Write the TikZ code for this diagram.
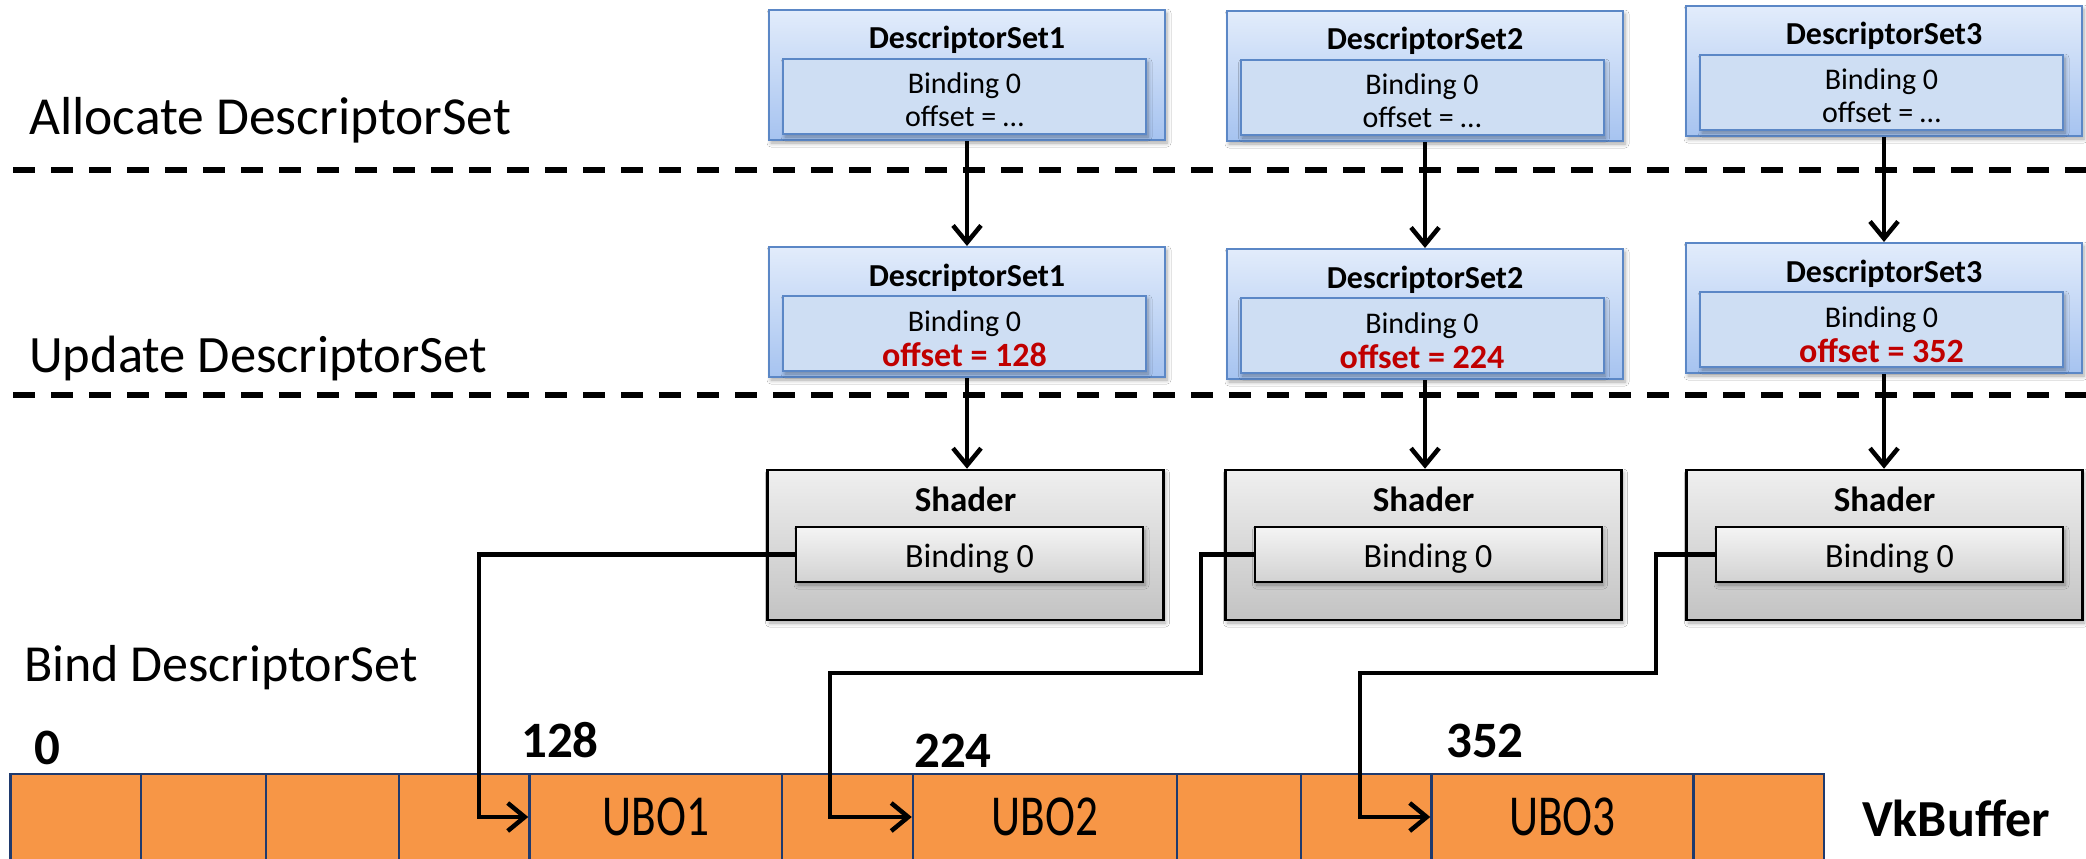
\documentclass[tikz,border=0pt]{standalone}
\usepackage{fontspec}
\setmainfont{Carlito}
\usetikzlibrary{arrows.meta,shadows.blur}
\definecolor{dsTop}{HTML}{E2ECFB}
\definecolor{dsBot}{HTML}{A6C3F0}
\definecolor{dsLine}{HTML}{5B87C6}
\definecolor{dsIn}{HTML}{CEDEF3}
\definecolor{shTop}{HTML}{EFEFEF}
\definecolor{shBot}{HTML}{C3C3C3}
\definecolor{inTop}{HTML}{F4F4F4}
\definecolor{inBot}{HTML}{D2D2D2}
\definecolor{bufFill}{HTML}{F79646}
\definecolor{bufLine}{HTML}{1F3A6E}
\definecolor{offRed}{HTML}{C00000}
\tikzset{
  softshadow/.style={blur shadow={shadow xshift=2pt, shadow yshift=-3pt, shadow blur steps=6, shadow blur radius=4pt, shadow opacity=35}},
  dsouter/.style={draw=dsLine, line width=2pt, top color=dsTop, bottom color=dsBot, minimum width=396pt, minimum height=130pt, inner sep=0pt, softshadow},
  dsinner/.style={draw=dsLine, line width=2pt, fill=dsIn, minimum width=363pt, minimum height=75pt, inner sep=0pt, softshadow},
  shouter/.style={draw=black, line width=2.5pt, top color=shTop, bottom color=shBot, minimum width=396pt, minimum height=150pt, inner sep=0pt, softshadow},
  shinner/.style={draw=black, line width=2pt, top color=inTop, bottom color=inBot, minimum width=347pt, minimum height=55pt, inner sep=0pt, softshadow},
  titletxt/.style={anchor=base, inner sep=0pt, font=\fontsize{32}{36}\selectfont\bfseries},
  bindtxt/.style={anchor=base, inner sep=0pt, font=\fontsize{30}{34}\selectfont},
  redtxt/.style={anchor=base, inner sep=0pt, text=offRed, font=\fontsize{34}{38}\selectfont\bfseries},
  shtitle/.style={anchor=base, inner sep=0pt, font=\fontsize{35}{40}\selectfont\bfseries},
  shbind/.style={anchor=base, inner sep=0pt, font=\fontsize{34}{38}\selectfont},
  section/.style={anchor=base west, inner sep=0pt, font=\fontsize{52}{60}\selectfont},
  numtxt/.style={anchor=base west, inner sep=0pt, font=\fontsize{51}{58}\selectfont\bfseries},
  cell/.style={draw=bufLine, line width=2.5pt, fill=bufFill, minimum height=86pt, inner sep=0pt, font=\fontsize{58}{64}\selectfont},
  conn/.style={draw=black, line width=4.5pt, -{Straight Barb[length=17pt, width=28pt, line width=4.5pt]}},
  sepline/.style={draw=black, line width=6pt, dash pattern=on 22pt off 16pt}
}
\begin{document}
\begin{tikzpicture}[x=1pt, y=-1pt]
\useasboundingbox (0,0) rectangle (2086,859);
\clip (0,0) rectangle (2086,859);
\fill[white] (0,0) rectangle (2086,859);

% section labels
\node[section, font=\fontsize{53.5}{60}\selectfont] (lalloc) at (29,134) {Allocate DescriptorSet};
\node[section, font=\fontsize{52.5}{60}\selectfont] (lupd) at (29,372) {Update DescriptorSet};
\node[section] (lbind) at (24,681) {Bind DescriptorSet};

% separators
\coordinate (s1a) at (13,170); \coordinate (s1b) at (2086,170);
\coordinate (s2a) at (13,395); \coordinate (s2b) at (2086,395);
\draw[sepline] (s1a) -- (s1b);
\draw[sepline] (s2a) -- (s2b);

% Allocate row
\node[dsouter] (A1) at (967,75) {};
\node[dsinner] (A1in) at (964.5,96.5) {};
\node[titletxt] (A1t) at (967,49) {DescriptorSet1};
\node[bindtxt] (A1b) at (964.5,93) {Binding 0};
\node[bindtxt] (A1o) at (964.5,126) {offset = …};

\node[dsouter] (A2) at (1425,76) {};
\node[dsinner] (A2in) at (1422,97.5) {};
\node[titletxt] (A2t) at (1425,50) {DescriptorSet2};
\node[bindtxt] (A2b) at (1422,94) {Binding 0};
\node[bindtxt] (A2o) at (1422,127) {offset = …};

\node[dsouter] (A3) at (1884,71) {};
\node[dsinner] (A3in) at (1881.5,92.5) {};
\node[titletxt] (A3t) at (1884,45) {DescriptorSet3};
\node[bindtxt] (A3b) at (1881.5,89) {Binding 0};
\node[bindtxt] (A3o) at (1881.5,122) {offset = …};

% Update row
\node[dsouter] (U1) at (967,312) {};
\node[dsinner] (U1in) at (964.5,333.5) {};
\node[titletxt] (U1t) at (967,286) {DescriptorSet1};
\node[bindtxt] (U1b) at (964.5,331) {Binding 0};
\node[redtxt] (U1o) at (964.5,366) {offset = 128};

\node[dsouter] (U2) at (1425,314) {};
\node[dsinner] (U2in) at (1422,335.5) {};
\node[titletxt] (U2t) at (1425,288) {DescriptorSet2};
\node[bindtxt] (U2b) at (1422,333) {Binding 0};
\node[redtxt] (U2o) at (1422,368) {offset = 224};

\node[dsouter] (U3) at (1884,308) {};
\node[dsinner] (U3in) at (1881.5,329.5) {};
\node[titletxt] (U3t) at (1884,282) {DescriptorSet3};
\node[bindtxt] (U3b) at (1881.5,327) {Binding 0};
\node[redtxt] (U3o) at (1881.5,362) {offset = 352};

% Shaders
\node[shouter] (S1) at (965.5,545) {};
\node[shinner] (S1in) at (969.5,554.5) {};
\node[shtitle] (S1t) at (965.5,511) {Shader};
\node[shbind] (S1b) at (969.5,567) {Binding 0};

\node[shouter] (S2) at (1423.5,545) {};
\node[shinner] (S2in) at (1428,554.5) {};
\node[shtitle] (S2t) at (1423.5,511) {Shader};
\node[shbind] (S2b) at (1428,567) {Binding 0};

\node[shouter] (S3) at (1884.5,545) {};
\node[shinner] (S3in) at (1889.5,554.5) {};
\node[shtitle] (S3t) at (1884.5,511) {Shader};
\node[shbind] (S3b) at (1889.5,567) {Binding 0};

% vertical arrows
\draw[conn] (A1.south) -- (A1.south |- U1.north);
\draw[conn] (A2.south) -- (A2.south |- U2.north);
\draw[conn] (A3.south) -- (A3.south |- U3.north);
\draw[conn] (U1.south) -- (U1.south |- S1.north);
\draw[conn] (U2.south) -- (U2.south |- S2.north);
\draw[conn] (U3.south) -- (U3.south |- S3.north);

% buffer
\node[cell, minimum width=130.4pt] (c1) at (75.8,817) {};
\node[cell, minimum width=125pt] (c2) at (203.5,817) {};
\node[cell, minimum width=133pt] (c3) at (332.5,817) {};
\node[cell, minimum width=130.5pt] (c4) at (464.25,817) {};
\node[cell, minimum width=252.5pt] (u1) at (655.75,817) {\scalebox{0.78}[1]{UBO1}};
\node[cell, minimum width=131pt] (c5) at (847.5,817) {};
\node[cell, minimum width=264pt] (u2) at (1045,817) {\scalebox{0.78}[1]{UBO2}};
\node[cell, minimum width=124pt] (c6) at (1239,817) {};
\node[cell, minimum width=130.5pt] (c7) at (1366.25,817) {};
\node[cell, minimum width=262.1pt] (u3) at (1562.55,817) {\scalebox{0.78}[1]{UBO3}};
\node[cell, minimum width=130.4pt] (c8) at (1758.8,817) {};

\node[numtxt] (n0) at (34,764) {0};
\node[numtxt] (n128) at (521,757) {128};
\node[numtxt] (n224) at (914,767) {224};
\node[numtxt] (n352) at (1446,757) {352};
\node[anchor=base west, inner sep=0pt, font=\fontsize{52}{60}\selectfont\bfseries] (vk) at (1862,836) {VkBuffer};

% elbow connectors
\coordinate (j1) at (479,700);
\draw[conn] (S1in.west) -| (j1) |- (u1.west);
\coordinate (j2a) at (1201,673);
\coordinate (j2b) at (830,780);
\draw[conn] (S2in.west) -| (j2a) -| (j2b) |- (u2.west);
\coordinate (j3a) at (1656,673);
\coordinate (j3b) at (1360,780);
\draw[conn] (S3in.west) -| (j3a) -| (j3b) |- (u3.west);
\end{tikzpicture}
\end{document}
